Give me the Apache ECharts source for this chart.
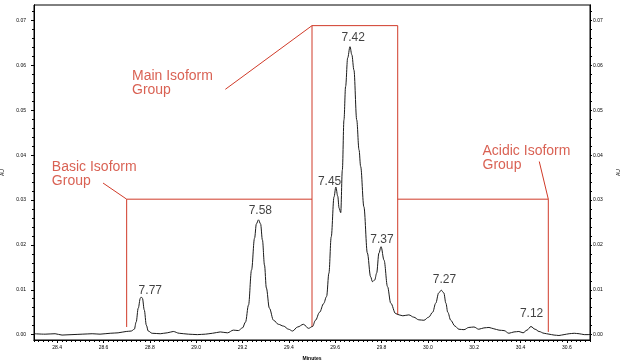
<!DOCTYPE html>
<html><head><meta charset="utf-8">
<script src="https://cdn.jsdelivr.net/npm/echarts@6/dist/echarts.min.js"></script>
<style>html,body{margin:0;padding:0;background:#fff}#c{width:630px;height:363px}</style>
</head><body><div id="c"></div>
<script>
// ---- data ----
const minutes = [28.300,28.348,28.391,28.421,28.464,28.508,28.551,28.585,28.629,28.663,28.698,28.720,28.733,28.741,28.750,28.759,28.763,28.768,28.776,28.785,28.793,28.810,28.845,28.875,28.901,28.927,28.966,29.005,29.040,29.070,29.104,29.135,29.161,29.182,29.200,29.213,29.226,29.239,29.252,29.260,29.269,29.278,29.286,29.295,29.303,29.316,29.334,29.355,29.377,29.399,29.416,29.438,29.463,29.485,29.502,29.515,29.533,29.550,29.563,29.573,29.583,29.595,29.603,29.611,29.617,29.624,29.631,29.638,29.645,29.654,29.664,29.672,29.681,29.693,29.703,29.710,29.724,29.739,29.753,29.761,29.771,29.779,29.789,29.798,29.811,29.826,29.840,29.861,29.876,29.892,29.918,29.939,29.961,29.983,30.004,30.021,30.034,30.047,30.058,30.069,30.078,30.086,30.099,30.117,30.134,30.156,30.177,30.199,30.220,30.242,30.264,30.285,30.307,30.329,30.350,30.372,30.393,30.411,30.428,30.445,30.463,30.480,30.502,30.523,30.545,30.566,30.588,30.610,30.632,30.653,30.675,30.692,30.705];
const au = [0.0002,0.0001,0.0002,-0.0001,0.0000,0.0001,0.0002,0.0001,0.0003,0.0004,0.0007,0.0008,0.0012,0.0028,0.0059,0.0081,0.0084,0.0081,0.0055,0.0021,0.0008,0.0003,0.0002,0.0004,0.0007,0.0003,0.0001,0.0000,0.0001,0.0003,0.0006,0.0004,0.0010,0.0009,0.0015,0.0028,0.0066,0.0144,0.0215,0.0247,0.0256,0.0247,0.0211,0.0155,0.0104,0.0059,0.0032,0.0023,0.0019,0.0012,0.0008,0.0017,0.0023,0.0014,0.0018,0.0032,0.0050,0.0069,0.0085,0.0137,0.0218,0.0307,0.0329,0.0309,0.0282,0.0272,0.0367,0.0479,0.0553,0.0617,0.0642,0.0624,0.0590,0.0479,0.0412,0.0375,0.0285,0.0182,0.0129,0.0118,0.0122,0.0137,0.0182,0.0196,0.0166,0.0107,0.0070,0.0047,0.0044,0.0042,0.0044,0.0039,0.0033,0.0032,0.0039,0.0050,0.0070,0.0093,0.0099,0.0093,0.0070,0.0050,0.0032,0.0019,0.0012,0.0011,0.0016,0.0017,0.0012,0.0015,0.0016,0.0013,0.0010,0.0009,0.0003,0.0006,0.0007,0.0004,0.0010,0.0018,0.0012,0.0007,0.0003,0.0001,-0.0001,-0.0002,0.0000,0.0002,0.0003,0.0002,0.0000,0.0000,0.0001];

const xTickValues = [28.4,28.6,28.8,29.0,29.2,29.4,29.6,29.8,30.0,30.2,30.4,30.6];
const yTickValues = [0.00,0.01,0.02,0.03,0.04,0.05,0.06,0.07];
const xRange = [28.3, 30.7];
const yRange = [-0.0012, 0.0735];
const xMinorStep = 0.02;
const yMinorStep = 0.002;

// peak annotations (text + anchor in data units)
const peakNames = ['7.77','7.58','7.45','7.42','7.37','7.27','7.12'];
const peakLabelX = [28.802,29.277,29.576,29.678,29.802,30.072,30.448];
const peakLabelY = [0.00975,0.02757,0.03404,0.06629,0.02121,0.01228,0.00458];

// isoform group annotations (text top-left anchor in data units)
const groupNames = ['Basic Isoform\nGroup','Main Isoform\nGroup','Acidic Isoform\nGroup'];
const groupLabelX = [28.377,28.723,30.236];
const groupLabelY = [0.0388,0.0593,0.0425];

// bracket polylines
const basicBracketX = [28.70,28.70,29.50];
const basicBracketY = [0.0017,0.0302,0.0302];
const mainBracketX = [29.50,29.50,29.87,29.87];
const mainBracketY = [0.0017,0.0689,0.0689,0.0044];
const acidicBracketX = [29.87,30.52,30.52];
const acidicBracketY = [0.0302,0.0302,0.0006];
const basicLeaderX = [28.598,28.70];
const basicLeaderY = [0.0338,0.0302];
const mainLeaderX = [29.126,29.50];
const mainLeaderY = [0.0547,0.0689];
const acidicLeaderX = [30.481,30.52];
const acidicLeaderY = [0.0386,0.0302];

// ---- build ----
const zip = (a,b)=>a.map((v,i)=>[v,b[i]]);
function steps(lo,hi,st){const out=[];const s=Math.ceil(lo/st-1e-9);for(let k=s;k*st<=hi+1e-9;k++)out.push(+(k*st).toFixed(6));return out;}
const xMinor = steps(xRange[0],xRange[1],xMinorStep).filter(v=>v>=xRange[0]&&v<=xRange[1]);
const yMinor = steps(yRange[0],yRange[1],yMinorStep).filter(v=>v>=yRange[0]&&v<=yRange[1]);

const RED = '#d03a28';
const FONT = 'Liberation Sans';
const tiny = {fontFamily:FONT,fontSize:5,color:'#000'};

const baseX = {type:'value',min:xRange[0],max:xRange[1],splitLine:{show:false},axisLine:{onZero:false,lineStyle:{color:'#000',width:1}}};
const baseY = {type:'value',min:yRange[0],max:yRange[1],splitLine:{show:false},axisLine:{onZero:false,lineStyle:{color:'#000',width:1}}};

const option = {
  animation:false,
  grid:{left:34,right:40,top:5,bottom:23,containLabel:false,outerBoundsMode:'none',show:true,borderColor:'#000',borderWidth:1,backgroundColor:'transparent'},
  xAxis:[
    Object.assign({},baseX,{position:'bottom',
      name:'Minutes',nameLocation:'middle',nameGap:16,nameTextStyle:{fontFamily:FONT,fontSize:5,fontWeight:'bold',color:'#000'},
      axisTick:{show:true,length:3,customValues:xTickValues,lineStyle:{color:'#000'}},
      axisLabel:Object.assign({show:true,margin:5,customValues:xTickValues,formatter:v=>v.toFixed(1)},tiny)}),
    Object.assign({},baseX,{position:'bottom',
      axisTick:{show:true,length:2,customValues:xMinor,lineStyle:{color:'#000'}},
      axisLabel:{show:false}})
  ],
  yAxis:[
    Object.assign({},baseY,{position:'left',
      name:'AU',nameLocation:'middle',nameGap:26,nameRotate:90,nameTextStyle:{fontFamily:FONT,fontSize:5,color:'#000'},
      axisTick:{show:true,length:3,customValues:yTickValues,lineStyle:{color:'#000'}},
      axisLabel:Object.assign({show:true,margin:8,customValues:yTickValues,formatter:v=>v.toFixed(2)},tiny)}),
    Object.assign({},baseY,{position:'left',
      axisTick:{show:true,length:2,customValues:yMinor,lineStyle:{color:'#000'}},
      axisLabel:{show:false}}),
    Object.assign({},baseY,{position:'right',
      name:'AU',nameLocation:'middle',nameGap:26,nameRotate:90,nameTextStyle:{fontFamily:FONT,fontSize:5,color:'#000'},
      axisTick:{show:true,length:2,customValues:yTickValues,lineStyle:{color:'#000'}},
      axisLabel:Object.assign({show:true,margin:3,customValues:yTickValues,formatter:v=>v.toFixed(2)},tiny)}),
    Object.assign({},baseY,{position:'right',
      axisTick:{show:true,length:2,customValues:yMinor,lineStyle:{color:'#000'}},
      axisLabel:{show:false}})
  ],
  series:[
    {type:'line',silent:true,showSymbol:false,smooth:0.35,smoothMonotone:'x',data:zip(minutes,au),
     lineStyle:{color:'#1a1a1a',width:1},z:3},
    ...[[basicBracketX,basicBracketY],[mainBracketX,mainBracketY],[acidicBracketX,acidicBracketY],
        [basicLeaderX,basicLeaderY],[mainLeaderX,mainLeaderY],[acidicLeaderX,acidicLeaderY]].map(([xs,ys])=>({
      type:'line',silent:true,showSymbol:false,data:zip(xs,ys),itemStyle:{color:RED},lineStyle:{color:RED,width:1},z:2})),
    {type:'scatter',silent:true,symbolSize:1,itemStyle:{color:'rgba(0,0,0,0)'},z:5,
     data:peakNames.map((n,i)=>({name:n,value:[peakLabelX[i],peakLabelY[i]]})),
     label:{show:true,position:'inside',formatter:p=>p.name,fontFamily:FONT,fontSize:12,color:'#111',align:'center',verticalAlign:'middle'}},
    {type:'scatter',silent:true,symbolSize:1,itemStyle:{color:'rgba(0,0,0,0)'},z:5,
     data:groupNames.map((n,i)=>({name:n,value:[groupLabelX[i],groupLabelY[i]]})),
     label:{show:true,position:'inside',formatter:p=>p.name,fontFamily:FONT,fontSize:14,lineHeight:14,color:RED,align:'left',verticalAlign:'top'}}
  ]
};
const chart = echarts.init(document.getElementById('c'),null,{renderer:'canvas'});
chart.setOption(option);
</script></body></html>
